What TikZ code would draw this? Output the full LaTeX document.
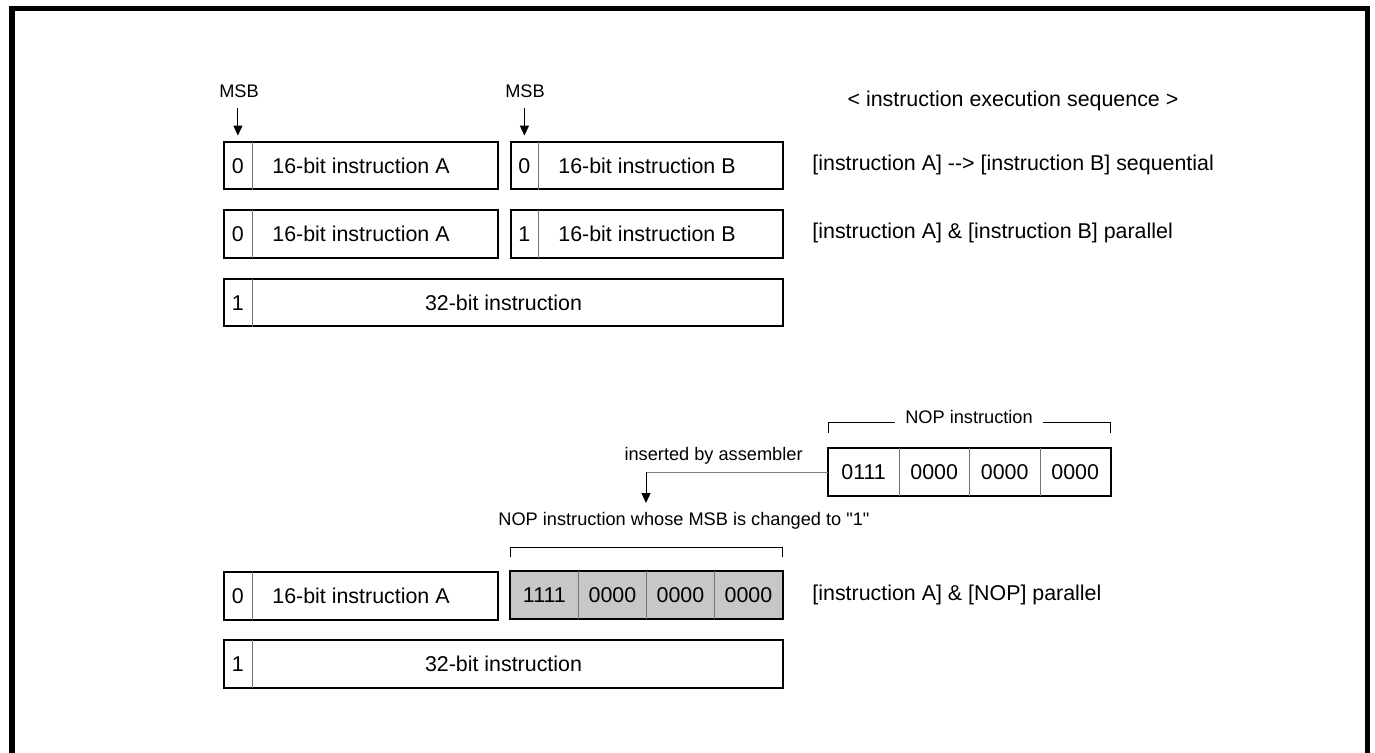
\documentclass[tikz,border=0pt]{standalone}
\usepackage{fontspec}
\setmainfont{Liberation Sans}[Ligatures=TeXOff]
\usetikzlibrary{arrows.meta,positioning}

\tikzset{
  cell/.style={minimum height=23.75pt, inner sep=0pt, anchor=north west,
    font=\fontsize{10.7}{12.8}\selectfont},
  box/.style={cell, draw, line width=1pt},
  bit/.style={cell, anchor=west, minimum width=14.5pt},
  outline/.style={line width=1pt},
  sep/.style={line width=0.5pt, black!55},
  txt/.style={inner sep=0pt, font=\fontsize{10.7}{12.8}\selectfont},
  note/.style={inner sep=0pt, font=\fontsize{9.1}{11}\selectfont},
  msbarrow/.style={-{Triangle[length=5pt,width=4.5pt]}, line width=0.5pt},
}

\begin{document}
\begin{tikzpicture}[x=0.5pt, y=-0.5pt]
	\useasboundingbox (0,0) rectangle (1375,753);
	% frame, open at the bottom
	\draw[line width=2.8pt, line join=miter] (12,753) -- (12,8.5) -- (1367.5,8.5) -- (1367.5,753);

	% 16-bit instruction A
	\foreach \n/\y/\b in {1/141/0, 2/209.5/0, 4/571/0} {
		\node[box, minimum width=137pt] (boxA\n) at (223,\y) {16-bit instruction A};
		\node[bit] (bitA\n) at (boxA\n.west) {\b};
		\draw[sep] (bitA\n.north east) -- (bitA\n.south east);
	}
	% 16-bit instruction B
	\foreach \n/\y/\b in {1/141/0, 2/209.5/1} {
		\node[box, minimum width=136pt] (boxB\n) at (510,\y) {16-bit instruction B};
		\node[bit, minimum width=14pt] (bitB\n) at (boxB\n.west) {\b};
		\draw[sep] (bitB\n.north east) -- (bitB\n.south east);
	}
	% 32-bit instruction
	\foreach \n/\y in {3/278, 5/639} {
		\node[box, minimum width=279.5pt] (boxW\n) at (223,\y) {32-bit instruction};
		\node[bit] (bitW\n) at (boxW\n.west) {1};
		\draw[sep] (bitW\n.north east) -- (bitW\n.south east);
	}

	% MSB markers
	\node[note] (msbA) at (239,91) {MSB};
	\node[note] (msbB) at (525,91) {MSB};
	\draw[msbarrow, shorten <=5pt, shorten >=3pt] (bitA1.north |- msbA.south) -- (bitA1.north);
	\draw[msbarrow, shorten <=5pt, shorten >=3pt] (bitB1.north |- msbB.south) -- (bitB1.north);

	% execution sequence
	\node[txt] (seqhead) at (1013,101) {< instruction execution sequence >};
	\node[txt, anchor=west] (seq1) at (812,164.75) {[instruction A] --> [instruction B] sequential};
	\node[txt, anchor=west] (seq2) at (812,233.25) {[instruction A] \& [instruction B] parallel};
	\node[txt, anchor=west] (seq4) at (812,594.75) {[instruction A] \& [NOP] parallel};

	% NOP from the assembler
	\foreach \v [count=\k from 0] in {0111,0000,0000,0000}
		\node[cell, minimum width=35.25pt] (nopT\k) at (828+70.5*\k,448) {\v};
	\draw[outline] (nopT0.north west) rectangle (nopT3.south east);
	\foreach \k in {0,1,2}
		\draw[sep] (nopT\k.north east) -- (nopT\k.south east);
	\draw[line width=0.5pt] (828,433) -- (828,422) -- (1110,422) -- (1110,433);
	\node[note, fill=white, inner xsep=5pt, inner ysep=1pt] (noplabel) at (969,417) {NOP instruction};

	% NOP with MSB set
	\foreach \v [count=\k from 0] in {1111,0000,0000,0000}
		\node[cell, fill=black!22, minimum width=34pt] (nopL\k) at (510+68*\k,571) {\v};
	\draw[outline] (nopL0.north west) rectangle (nopL3.south east);
	\foreach \k in {0,1,2}
		\draw[sep] (nopL\k.north east) -- (nopL\k.south east);
	\draw[line width=0.5pt] (510,557) -- (510,547) -- (782,547) -- (782,557);
	\node[note, anchor=west] (nopnote) at (498,521) {NOP instruction whose MSB is changed to "1"};

	% inserted by assembler
	\node[note, anchor=east] (insnote) at (803,456) {inserted by assembler};
	\coordinate (drop) at (646,503);
	\coordinate (bend) at (nopT0.west -| drop);
	\draw[line width=0.5pt, black!50] (nopT0.west) -- (bend);
	\draw[msbarrow] (bend) -- (drop);
\end{tikzpicture}
\end{document}
